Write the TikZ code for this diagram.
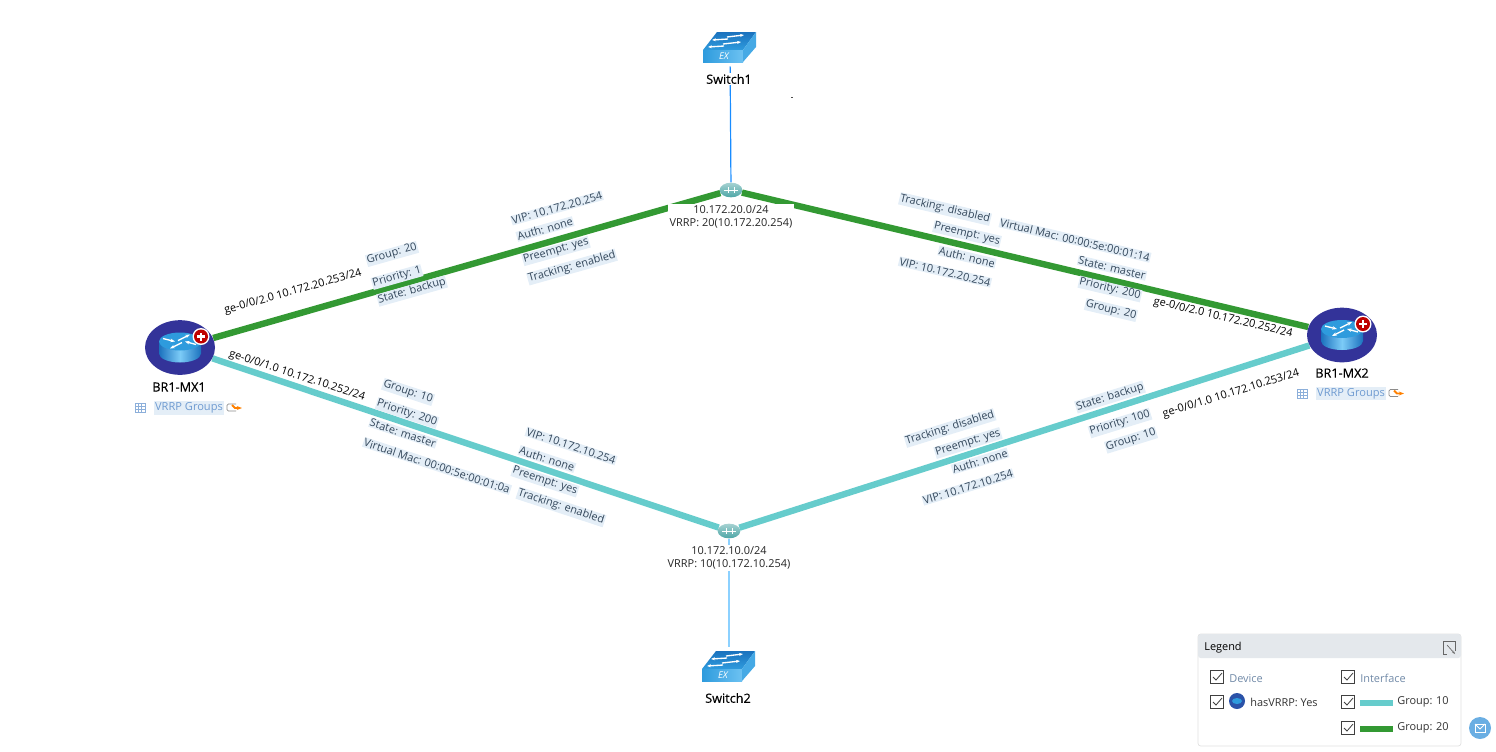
\documentclass[tikz,border=0pt]{standalone}
\usepackage{fontspec}
\setmainfont{Open Sans}
\newfontfamily\semifont[FakeBold=0.4]{Open Sans}
\usetikzlibrary{positioning,backgrounds,shapes.geometric,arrows.meta}
\definecolor{grpten}{HTML}{66CCCC}
\definecolor{grptwenty}{HTML}{339933}
\definecolor{paleblue}{HTML}{E4EEF7}
\definecolor{labeltext}{HTML}{33475B}
\definecolor{devnavy}{HTML}{333399}
\definecolor{linktext}{HTML}{6F9BD1}
\definecolor{iconlight}{HTML}{7CCBF7}
\definecolor{iconmid}{HTML}{2E9BDD}
\definecolor{icondark}{HTML}{1B72BE}
\definecolor{legendgray}{HTML}{E4E8EC}
\definecolor{mailblue}{HTML}{6AAEE3}
\tikzset{
    plainlabel/.style={inner sep=0.6pt, font=\fontsize{8.2}{10}\selectfont, text=black},
    vrrplabel/.style={plainlabel, fill=paleblue, text=labeltext},
    devname/.style={inner sep=1pt, font=\fontsize{9.5}{11}\selectfont\semifont, text=black},
    groupbtn/.style={fill=paleblue, inner sep=1pt, font=\fontsize{8.3}{10}\selectfont, text=linktext},
    netlabel/.style={fill=white, inner sep=1pt, align=center, font=\fontsize{8.2}{9.8}\selectfont, text=black!85},
    devbase/.style={ellipse, fill=devnavy, minimum width=52.5pt, minimum height=41pt, inner sep=0pt},
    hubbase/.style={ellipse, minimum width=17pt, minimum height=11pt, inner sep=0pt, top color=teal!35, bottom color=teal!70},
    swbase/.style={minimum width=40pt, minimum height=28.5pt, inner sep=0pt},
    grouplink/.style={line width=4.8pt},
    swlink/.style={line width=0.9pt},
    legendtext/.style={inner sep=0pt, font=\fontsize{8.2}{10}\selectfont, text=black!80},
    legendhead/.style={legendtext, text=linktext!70!black!80},
    swatch/.style={minimum width=25pt, minimum height=3.8pt, inner sep=0pt},
    pics/checkbox/.style={code={
        \draw[black!75, line width=0.6pt] (-6.5,-6.5) rectangle (6.5,6.5);
        \draw[black!75, line width=0.6pt] (-4,0) -- (-1,3) -- (5,-4);
    }},
    pics/routericon/.style={code={
        \path[left color=icondark, right color=icondark, middle color=iconlight] (-21,-6) -- (-21,6) arc[start angle=180, end angle=0, x radius=21, y radius=9] -- (21,-6) -- cycle;
        \fill[iconmid] (0,-6) ellipse[x radius=21, y radius=9];
        \draw[white, line width=1pt, -{Stealth[length=3.5pt]}] (-17,-9) -- (-5,-6);
        \draw[white, line width=1pt, -{Stealth[length=3.5pt]}] (16,-3) -- (5,-6);
        \draw[white, line width=1pt, -{Stealth[length=3.5pt]}] (-2,-7) -- (10,-13);
        \draw[white, line width=1pt, -{Stealth[length=3.5pt]}] (2,-5) -- (-10,1);
        \fill[white] (21,-11) circle[radius=8.5];
        \fill[red!75!black] (21,-11) circle[radius=7];
        \fill[white] (17,-12.2) rectangle (25,-9.8);
        \fill[white] (19.8,-15) rectangle (22.2,-7);
    }},
    pics/switchicon/.style={code={
        \path[top color=icondark, bottom color=iconmid] (-27,3) -- (-13,-15) -- (26,-15) -- (13,3) -- cycle;
        \path[left color=iconmid, right color=iconlight!80!iconmid] (-27,3) rectangle (13,15);
        \fill[iconmid!70!iconlight] (13,3) -- (26,-15) -- (26,0) -- (13,15) -- cycle;
        \draw[white, line width=1pt, -{Stealth[length=3pt]}] (-3,-10) -- (14,-12);
        \draw[white, line width=1pt, -{Stealth[length=3pt]}] (-2,-8) -- (-18,-7);
        \draw[white, line width=1pt, -{Stealth[length=3pt]}] (-7,-3) -- (11,-5);
        \draw[white, line width=1pt, -{Stealth[length=3pt]}] (-6,-1) -- (-22,0);
        \node[inner sep=0pt, text=white, font=\fontsize{7}{8}\selectfont\itshape] (ex) at (-6,9) {EX};
    }},
    pics/hubicon/.style={code={
        \draw[white, line width=0.7pt] (-7,0) -- (7,0) (-3,-3) -- (-3,3) (3,-3) -- (3,3);
    }},
    pics/gridicon/.style={code={
        \draw[linktext!80, line width=0.5pt] (-5,-4.5) rectangle (5,4.5);
        \draw[linktext!80, line width=0.5pt] (-5,-1.5) -- (5,-1.5) (-5,1.5) -- (5,1.5) (-1.7,-4.5) -- (-1.7,4.5) (1.7,-4.5) -- (1.7,4.5);
    }},
    pics/jumpicon/.style={code={
        \draw[black!45, line width=0.5pt, rounded corners=1pt] (2,3) -- (-7,3) -- (-7,-4) -- (2,-4);
        \draw[orange, line width=1.4pt, -{Stealth[length=4pt]}] (-2,-3) -- (1,0) -- (8,0);
    }},
}
\begin{document}
\begin{tikzpicture}[x=0.75pt, y=-0.75pt]
    \useasboundingbox (0,0) rectangle (1496,751);
    % devices and networks
    \node[devbase] (mx1) at (180,347.5) {};
    \node[devbase] (mx2) at (1342,335) {};
    \node[hubbase] (hub20) at (731,190) {};
    \node[hubbase] (hub10) at (729,531) {};
    \node[swbase] (sw1) at (730,47) {};
    \node[swbase] (sw2) at (729,666) {};
    \pic at (mx1) {routericon};
    \pic at (mx2) {routericon};
    \pic at (sw1) {switchicon};
    \pic at (sw2) {switchicon};
    \pic at (hub20) {hubicon};
    \pic at (hub10) {hubicon};

    \node[devname] (mx1name) at (179,387) {BR1-MX1};
    \node[devname] (mx2name) at (1342,373) {BR1-MX2};
    \node[devname, fill=white] (sw1name) at (729,79) {Switch1};
    \node[devname] (sw2name) at (728,698) {Switch2};

    \node[groupbtn] (mx1btn) at (189,408) {VRRP Groups};
    \node[groupbtn] (mx2btn) at (1351,393.5) {VRRP Groups};
    \pic at (140,408) {gridicon};
    \pic at (234,408) {jumpicon};
    \pic at (1302,393.5) {gridicon};
    \pic at (1396,393.5) {jumpicon};

    \node[netlabel] (net20) at (731,217) {10.172.20.0/24\\VRRP: 20(10.172.20.254)};
    \node[netlabel] (net10) at (729,558) {10.172.10.0/24\\VRRP: 10(10.172.10.254)};

    % links
    \begin{scope}[on background layer]
        \draw[grouplink, grptwenty] (mx1) -- (hub20);
        \draw[grouplink, grptwenty] (mx2) -- (hub20);
        \draw[grouplink, grpten] (mx1) -- (hub10);
        \draw[grouplink, grpten] (mx2) -- (hub10);
        \draw[swlink, blue!50!cyan!90] (sw1) -- (hub20);
        \draw[swlink, line width=1.4pt, blue!40!cyan!45] (sw2) -- (hub10);
    \end{scope}

    % interface labels
    \node[plainlabel, rotate=15.7] (mx1ge20) at (293,292) {ge-0/0/2.0 10.172.20.253/24};
    \node[plainlabel, rotate=-13.3] (mx2ge20) at (1223,318) {ge-0/0/2.0 10.172.20.252/24};
    \node[plainlabel, rotate=-18.2] (mx1ge10) at (297,376) {ge-0/0/1.0 10.172.10.252/24};
    \node[plainlabel, rotate=17.2] (mx2ge10) at (1231,394) {ge-0/0/1.0 10.172.10.253/24};

    \foreach \px/\py/\txt [count=\i] in {392/254/Group: 20, 397/277/Priority: 1, 412/291/State: backup, 557/208/VIP: 10.172.20.254, 545/229/Auth: none, 556/251/Preempt: yes, 572/267/Tracking: enabled}
        \node[vrrplabel, rotate=15.7] (lefta\i) at (\px,\py) {\txt};
    \foreach \px/\py/\txt [count=\i] in {945/209/Tracking: disabled, 967/234/Preempt: yes, 967/257/Auth: none, 945/272/VIP: 10.172.20.254, 1075/240/Virtual Mac: 00:00:5e:00:01:14, 1112/268/State: master, 1110/289/Priority: 200, 1111/310/Group: 20}
        \node[vrrplabel, rotate=-13.3] (righta\i) at (\px,\py) {\txt};
    \foreach \px/\py/\txt [count=\i] in {408/392/Group: 10, 407/413/Priority: 200, 403/433/State: master, 437/466/Virtual Mac: 00:00:5e:00:01:0a, 571/446/VIP: 10.172.10.254, 547/459/Auth: none, 545/481/Preempt: yes, 561/507/Tracking: enabled}
        \node[vrrplabel, rotate=-18.2] (leftb\i) at (\px,\py) {\txt};
    \foreach \px/\py/\txt [count=\i] in {950/428/Tracking: disabled, 968/443/Preempt: yes, 980/461/Auth: none, 968/487/VIP: 10.172.10.254, 1110/397/State: backup, 1120/423/Priority: 100, 1131/440/Group: 10}
        \node[vrrplabel, rotate=17.2] (rightb\i) at (\px,\py) {\txt};

    % speck above the right link
    \node[fill=black!70, minimum width=1.5pt, minimum height=0.6pt, inner sep=0pt] (speck) at (792,97) {};

    % legend
    \fill[white, draw=black!12, rounded corners=2pt, line width=0.5pt] (1198,634) rectangle (1461,746);
    \fill[legendgray, rounded corners=2pt] (1198,634) rectangle (1461,658);
    \node[legendtext, text=black] (legendtitle) at (1223,648) {Legend};
    \draw[black!60, line width=0.5pt] (1455,651) -- (1455,641) -- (1443,641) -- (1443,654) -- (1447,654);
    \draw[black!60, line width=0.5pt, -{Stealth[length=2.5pt]}] (1447,645) -- (1455,654);
    \pic at (1217,677) {checkbox};
    \pic at (1348,677) {checkbox};
    \pic at (1217,702) {checkbox};
    \pic at (1348,702) {checkbox};
    \pic at (1348,728) {checkbox};
    \node[legendhead] (legdevice) at (1246,678.5) {Device};
    \node[legendhead] (leginterface) at (1383,678.5) {Interface};
    \node[circle, fill=devnavy!85!cyan, minimum size=12pt, inner sep=0pt] (legdot) at (1237,701) {};
    \fill[iconmid] (1237,701) ellipse[x radius=5, y radius=3];
    \node[legendtext] (legvrrp) at (1284,702) {hasVRRP: Yes};
    \node[swatch, fill=grpten] (legten) at (1376.5,703) {};
    \node[swatch, fill=grptwenty] (legtwenty) at (1376.5,729) {};
    \node[legendtext] (legtentxt) at (1423,702) {Group: 10};
    \node[legendtext] (legtwentytxt) at (1423,728) {Group: 20};

    % mail button
    \node[circle, fill=mailblue, minimum size=16.5pt, inner sep=0pt] (mailbtn) at (1480,728) {};
    \draw[white, line width=0.7pt] (1475,724) rectangle (1485,732);
    \draw[white, line width=0.7pt] (1475,724) -- (1480,729) -- (1485,724);
\end{tikzpicture}
\end{document}
